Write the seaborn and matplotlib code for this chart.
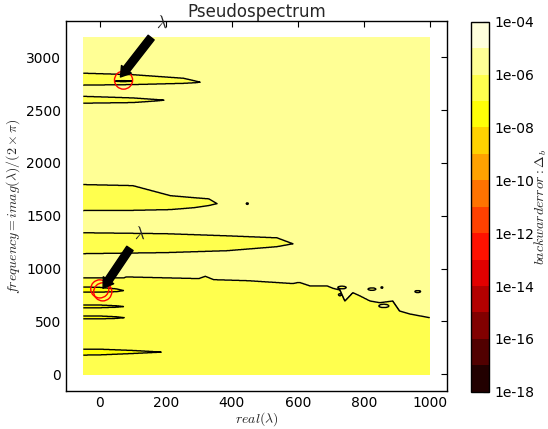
import numpy as np
import matplotlib
matplotlib.use("Agg")
import matplotlib.pyplot as plt
import seaborn as sns
from matplotlib.colors import LogNorm

# ---------------- data ----------------
real_range = [-50.0, 1000.0]
freq_range = [0.0, 20000.0 / (2 * np.pi)]

level_exponents = np.arange(-18, -3)          # 1e-18 ... 1e-4 band edges
cbar_tick_exponents = np.arange(-18, -3, 2)
cbar_tick_labels = ["1e-18", "1e-16", "1e-14", "1e-12", "1e-10", "1e-08", "1e-06", "1e-04"]

background_exp = -5.5      # pale band (1e-6 .. 1e-5)
lower_exp = -6.5           # yellow band (1e-7 .. 1e-6)
lobe_exp = -6.5
deep_lobe_exp = -7.5

# boundary between pale and yellow bands (frequency as function of real part)
boundary_real = [-50, 73, 80, 300, 320, 345, 450, 586, 600, 607, 637, 689, 707, 728, 743,
                 767, 789, 819, 849, 888, 909, 940, 1000]
boundary_freq = [912, 912, 921, 905, 927, 895, 885, 858, 868, 867, 836, 836, 813, 797, 693,
                 772, 741, 693, 677, 693, 598, 570, 535]

# upper lobes (yellow band inside pale region)
lobe1_real = [-50, 100, 254, 290, 305]
lobe1_top = [2849, 2835, 2801, 2775, 2763]
lobe1_bot = [2735, 2740, 2752, 2758, 2763]

lobe2_real = [-50, 100, 170, 196]
lobe2_top = [2630, 2615, 2600, 2593]
lobe2_bot = [2564, 2570, 2585, 2593]

lobe3_real = [-50, 100, 214, 285, 330, 356]
lobe3_top = [1795, 1785, 1690, 1671, 1660, 1614]
lobe3_bot = [1548, 1550, 1557, 1575, 1595, 1614]

lobe4_real = [-50, 200, 386, 537, 586]
lobe4_top = [1339, 1330, 1310, 1291, 1234]
lobe4_bot = [1140, 1150, 1168, 1206, 1234]

# small deep lobe under the upper circle
lobe5_real = [45, 70, 100]
lobe5_top = [2773, 2779, 2773]
lobe5_bot = [2773, 2767, 2773]

# lower lobes (deeper band inside yellow region)
lobe6_real = [-50, 0, 50, 73]
lobe6_top = [826, 822, 808, 791]
lobe6_bot = [776, 776, 780, 791]

lobe7_real = [-50, 0, 50, 75]
lobe7_top = [655, 655, 648, 640]
lobe7_bot = [628, 628, 633, 640]

lobe8_real = [-50, 0, 50, 75]
lobe8_top = [551, 551, 544, 535]
lobe8_bot = [523, 523, 527, 535]

lobe9_real = [-50, 0, 100, 193]
lobe9_top = [237, 237, 225, 209]
lobe9_bot = [180, 182, 195, 209]

# small islands: (real, freq, half width, half height, exponent)
island_real = [734, 825, 964, 855, 728, 861, 447]
island_freq = [820, 805, 782, 820, 752, 646, 1614]
island_rx = [13, 12, 9, 3, 4, 15, 3]
island_ry = [13, 12, 10, 8, 10, 15, 8]
island_exp = [-6.5, -6.5, -6.5, -6.5, -5.5, -5.5, -6.5]

# red marker circles and arrows
circle_real = [72, 0, 9]
circle_freq = [2783, 807, 779]
arrow_xy = [(57, 2790), (5, 790)]
arrow_text_xy = [(169, 3277), (103, 1282)]

# ---------------- build the field ----------------
xg = np.linspace(real_range[0], real_range[1], 900)
yg = np.linspace(freq_range[0], freq_range[1], 1500)
X, Y = np.meshgrid(xg, yg)

logZ = np.full(X.shape, background_exp)
bnd = np.interp(xg, boundary_real, boundary_freq)
logZ[Y < bnd[None, :]] = lower_exp


def apply_lobe(rx, top, bot, val):
    t = np.interp(xg, rx, top)
    b = np.interp(xg, rx, bot)
    inside_x = (xg >= rx[0]) & (xg <= rx[-1])
    m = inside_x[None, :] & (Y <= t[None, :]) & (Y >= b[None, :])
    logZ[m] = val


for rx, tp, bt, v in [
    (lobe1_real, lobe1_top, lobe1_bot, lobe_exp),
    (lobe2_real, lobe2_top, lobe2_bot, lobe_exp),
    (lobe3_real, lobe3_top, lobe3_bot, lobe_exp),
    (lobe4_real, lobe4_top, lobe4_bot, lobe_exp),
    (lobe5_real, lobe5_top, lobe5_bot, deep_lobe_exp),
    (lobe6_real, lobe6_top, lobe6_bot, deep_lobe_exp),
    (lobe7_real, lobe7_top, lobe7_bot, deep_lobe_exp),
    (lobe8_real, lobe8_top, lobe8_bot, deep_lobe_exp),
    (lobe9_real, lobe9_top, lobe9_bot, deep_lobe_exp),
]:
    apply_lobe(rx, tp, bt, v)

for cx, cy, ax_, ay_, v in zip(island_real, island_freq, island_rx, island_ry, island_exp):
    m = ((X - cx) / ax_) ** 2 + ((Y - cy) / ay_) ** 2 <= 1.0
    logZ[m] = v

Z = 10.0 ** logZ
levels = 10.0 ** level_exponents.astype(float)

# ---------------- style ----------------
sns.set_style("white")
plt.rcParams.update({
    "font.family": ["DejaVu Sans"],
    "font.size": 10,
    "mathtext.fontset": "cm",
    "xtick.direction": "in",
    "ytick.direction": "in",
    "xtick.top": True,
    "ytick.right": True,
    "xtick.major.size": 4,
    "ytick.major.size": 4,
    "xtick.color": "black",
    "ytick.color": "black",
    "axes.edgecolor": "black",
    "axes.linewidth": 1.0,
})

fig = plt.figure(figsize=(5.48, 4.29), dpi=100)
ax = fig.add_axes([0.1204, 0.0886, 0.6953, 0.8624])
cax = fig.add_axes([0.8595, 0.0868, 0.0330, 0.8625])

norm = LogNorm(vmin=levels[0], vmax=levels[-1])
cf = ax.contourf(X, Y, Z, levels=levels, cmap="hot", norm=norm)
ax.contour(X, Y, Z, levels=levels, colors="k", linewidths=1.0, norm=norm)

sns.scatterplot(x=circle_real, y=circle_freq, ax=ax, marker="o", s=170,
                facecolor="none", edgecolor="red", linewidth=1.0, legend=False, zorder=5)

for xy, xyt in zip(arrow_xy, arrow_text_xy):
    ax.annotate(r"$\lambda$", xy=xy, xytext=xyt, fontsize=12,
                arrowprops=dict(facecolor="black", edgecolor="black", shrink=0.05,
                                width=5.5, headwidth=9, headlength=7), zorder=6)

span_x = real_range[1] - real_range[0]
span_y = freq_range[1] - freq_range[0]
ax.set_xlim(real_range[0] - 0.05 * span_x, real_range[1] + 0.05 * span_x)
ax.set_ylim(freq_range[0] - 0.05 * span_y, freq_range[1] + 0.05 * span_y)
ax.set_xticks([0, 200, 400, 600, 800, 1000])
ax.set_yticks([0, 500, 1000, 1500, 2000, 2500, 3000])
ax.set_xlabel(r"$real(\lambda)$", fontsize=10, labelpad=0)
ax.set_ylabel(r"$frequency=imag(\lambda)/(2\times\pi)$", fontsize=10, labelpad=3)
ax.set_title("Pseudospectrum", fontsize=12, pad=3)
for s in ax.spines.values():
    s.set_visible(True)
    s.set_color("black")

cb = fig.colorbar(cf, cax=cax)
cb.set_ticks(10.0 ** cbar_tick_exponents.astype(float))
cb.set_ticklabels(cbar_tick_labels)
cb.ax.minorticks_off()
cb.ax.tick_params(direction="in", length=4, right=True, labelsize=10)
cb.outline.set_edgecolor("black")
cb.outline.set_linewidth(1.0)
cb.set_label(r"$backward error :\Delta_b$", fontsize=10, labelpad=-1)

fig.savefig("out.png", dpi=100, facecolor="white")
